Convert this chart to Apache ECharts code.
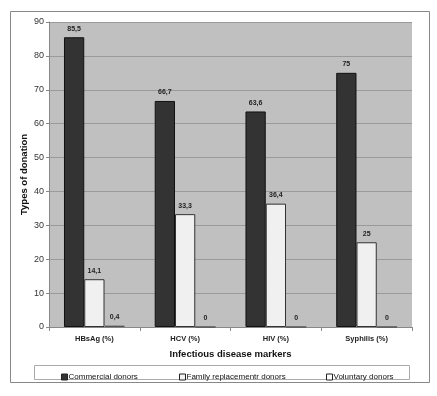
<!DOCTYPE html>
<html><head><meta charset="utf-8">
<script src="https://cdn.jsdelivr.net/npm/echarts@6/dist/echarts.min.js"></script>
<style>html,body{margin:0;padding:0;background:#fff}#c{width:437px;height:396px}</style>
</head><body><div id="c"></div>
<script>
const categories = ['HBsAg (%)', 'HCV (%)', 'HIV (%)', 'Syphilis (%)'];
const commercial = [85.5, 66.7, 63.6, 75];
const family = [14.1, 33.3, 36.4, 25];
const voluntary = [0.4, 0, 0, 0];
const yTicks = [0, 10, 20, 30, 40, 50, 60, 70, 80, 90];
const seriesNames = ['Commercial donors', 'Family replacementr donors', 'Voluntary donors'];

const FONT = '"Liberation Sans", Arial, sans-serif';
const chart = echarts.init(document.getElementById('c'), null, {renderer: 'canvas'});
const lbl = {show: true, position: 'top', distance: 5, fontFamily: FONT, fontSize: 7, fontWeight: 'bold', color: '#222',
  formatter: p => String(p.value).replace('.', ',')};
function legendAt(name, left, color) {
  return {data: [{name: name, itemStyle: {color: color, borderColor: '#222', borderWidth: 1}}],
    left: left, top: 368, itemWidth: 6, itemHeight: 6, itemGap: 0, icon: 'rect',
    textStyle: {fontFamily: FONT, fontSize: 8, color: '#111', padding: [0, 0, 0, -4]}, selectedMode: false};
}
chart.setOption({
  animation: false,
  backgroundColor: '#fff',
  graphic: [
    {type: 'rect', shape: {x: 10.5, y: 11.5, width: 419, height: 371}, style: {fill: 'none', stroke: '#888', lineWidth: 1}, z: -1},
    {type: 'rect', shape: {x: 34.5, y: 365.5, width: 375, height: 14}, style: {fill: '#fff', stroke: '#aaa', lineWidth: 1}, z: -1}
  ],
  legend: [
    legendAt(seriesNames[0], 56, '#333333'),
    legendAt(seriesNames[1], 174, '#f4f4f4'),
    legendAt(seriesNames[2], 321, '#ffffff')
  ],
  grid: {left: 49, top: 22, right: 25, bottom: 69, show: true, backgroundColor: '#c0c0c0', borderWidth: 0},
  xAxis: {
    type: 'category', data: categories,
    name: 'Infectious disease markers', nameLocation: 'middle', nameGap: 22, nameMoveOverlap: false,
    nameTextStyle: {fontFamily: FONT, fontSize: 9.5, fontWeight: 'bold', color: '#111'},
    axisLine: {lineStyle: {color: '#888'}},
    axisTick: {show: true, length: 4, lineStyle: {color: '#888'}},
    axisLabel: {fontFamily: FONT, fontSize: 7.5, fontWeight: 'bold', color: '#222', margin: 8}
  },
  yAxis: {
    type: 'value', min: 0, max: 90, interval: 10,
    name: 'Types of donation', nameLocation: 'middle', nameGap: 20, nameMoveOverlap: false,
    nameTextStyle: {fontFamily: FONT, fontSize: 9.5, fontWeight: 'bold', color: '#111'},
    axisLine: {show: true, lineStyle: {color: '#888'}},
    axisTick: {show: true, length: 3, lineStyle: {color: '#888'}},
    axisLabel: {fontFamily: FONT, fontSize: 9, color: '#333', margin: 5,
      formatter: v => yTicks.includes(v) ? String(v) : ''},
    splitLine: {lineStyle: {color: '#9a9a9a', width: 1}}
  },
  series: [
    {name: seriesNames[0], type: 'bar', data: commercial, barGap: '0%', barCategoryGap: '33%',
      itemStyle: {color: '#333333', borderColor: '#111', borderWidth: 1}, label: lbl},
    {name: seriesNames[1], type: 'bar', data: family,
      itemStyle: {color: '#f0f0f0', borderColor: '#333', borderWidth: 1}, label: lbl},
    {name: seriesNames[2], type: 'bar', data: voluntary,
      itemStyle: {color: '#777', borderColor: '#555', borderWidth: 1}, label: lbl}
  ]
});
</script></body></html>
